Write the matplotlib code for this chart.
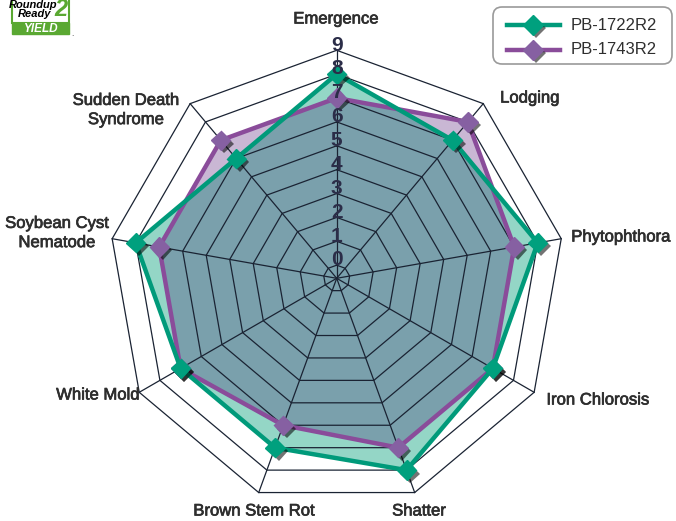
import matplotlib
matplotlib.use('Agg')
import matplotlib.pyplot as plt
import numpy as np
import matplotlib.patheffects as pe
from matplotlib.patches import FancyBboxPatch, Rectangle
from matplotlib.lines import Line2D

# ---------------- data ----------------
categories = ['Emergence', 'Lodging', 'Phytophthora', 'Iron Chlorosis', 'Shatter',
              'Brown Stem Rot', 'White Mold', 'Soybean Cyst\nNematode',
              'Sudden Death\nSyndrome']
pb1722 = [8, 7, 8, 7, 8, 7, 7, 8, 6]
pb1743 = [7, 8, 7, 7, 7, 6, 7, 7, 7]
series_names = ['PB-1722R2', 'PB-1743R2']
scale_ticks = [0, 1, 2, 3, 4, 5, 6, 7, 8, 9]

# ---------------- layout / style ----------------
W, H = 676, 521
cx, cy, R = 336.7, 278.3, 228
RMIN, RMAX = -0.55, 9
label_pos = [(336, 19), (530, 98), (621, 237), (598, 400), (419, 511),
             (254, 511), (98, 395), (57, 233), (126, 110)]
FONT = ['Liberation Sans', 'DejaVu Sans']
NARROW = ['Liberation Sans Narrow', 'Liberation Sans', 'DejaVu Sans']
GREEN, GREEN_M = '#009a7a', '#00a07e'
PURPLE, PURPLE_M = '#8a4c9a', '#8660a2'
FILL_G, FILL_P, FILL_O = '#94d6c6', '#c9b7d4', '#7aa0ac'
GRID = '#1a2333'
TXT = '#2e2e2e'
heavy = [pe.withStroke(linewidth=0.5, foreground=TXT)]

fig = plt.figure(figsize=(W / 100, H / 100), dpi=100)
fig.patch.set_facecolor('white')
ax = fig.add_axes([(cx - R) / W, (H - cy - R) / H, 2 * R / W, 2 * R / H],
                  projection='polar')
ax.set_theta_zero_location('N')
ax.set_theta_direction(-1)
ax.set_ylim(RMIN, RMAX)
ax.axis('off')

n = len(categories)
theta = np.linspace(0, 2 * np.pi, n, endpoint=False)
tc = np.append(theta, theta[0])
gc = np.append(pb1722, pb1722[0])
pcv = np.append(pb1743, pb1743[0])

# fills
ax.fill(tc, gc, color=FILL_G, lw=0, zorder=1)
p_fill = ax.fill(tc, pcv, color=FILL_P, lw=0, zorder=1.1)[0]
ov = ax.fill(tc, gc, color=FILL_O, lw=0, zorder=1.2)[0]
ov.set_clip_path(p_fill)

# polygon grid
for k in scale_ticks:
    ax.plot(tc, np.full(n + 1, k), color=GRID, lw=0.9, zorder=3, clip_on=False)
for t in theta:
    ax.plot([t, t], [RMIN, RMAX], color=GRID, lw=0.9, zorder=3, clip_on=False)

shadow = [pe.SimplePatchShadow(offset=(2.5, -2.5), shadow_rgbFace='#000000', alpha=0.55),
          pe.Normal()]

# series
ax.plot(tc, pcv, color=PURPLE, lw=3.2, zorder=4, clip_on=False, solid_joinstyle='miter')
ax.plot(theta, pb1743, ls='none', marker='D', ms=9.8, mfc=PURPLE_M, mec=PURPLE_M,
        zorder=5, clip_on=False, path_effects=shadow)
ax.plot(tc, gc, color=GREEN, lw=3.2, zorder=6, clip_on=False, solid_joinstyle='miter')
ax.plot(theta, pb1722, ls='none', marker='D', ms=9.8, mfc=GREEN_M, mec=GREEN_M,
        zorder=7, clip_on=False, path_effects=shadow)

# scale numbers
for k in scale_ticks:
    ax.text(0, k + 0.22, str(k), ha='center', va='center', fontsize=15,
            fontweight='bold', color='#2b2d48', family=NARROW, zorder=8, clip_on=False)

# ---------------- overlay (labels, legend, logo) ----------------
ov_ax = fig.add_axes([0, 0, 1, 1], zorder=10)
ov_ax.set_xlim(0, W)
ov_ax.set_ylim(H, 0)
ov_ax.axis('off')

for lab, (x, y) in zip(categories, label_pos):
    ov_ax.text(x, y, lab, ha='center', va='center', fontsize=12, color=TXT,
               family=FONT, linespacing=1.35, path_effects=heavy)

# legend
ov_ax.add_patch(FancyBboxPatch((493, 7), 179, 57,
                               boxstyle='round,pad=0,rounding_size=9',
                               fc='white', ec='#9a9a9a', lw=1.2))
for name, col, mcol, y in [(series_names[0], GREEN, GREEN_M, 25),
                            (series_names[1], PURPLE, PURPLE_M, 50)]:
    ov_ax.add_line(Line2D([507, 560], [y, y], color=col, lw=3.2))
    ov_ax.add_line(Line2D([533], [y], ls='none', marker='D', ms=9.8, mfc=mcol,
                          mec=mcol, path_effects=shadow))
    ov_ax.text(571, y, name, ha='left', va='center', fontsize=12, color=TXT,
               family=FONT)

# logo
LOGO = '#5aa832'
ov_ax.add_patch(Rectangle((12, -4), 57, 27, fc='white', ec=LOGO, lw=1.5))
ov_ax.add_patch(Rectangle((12, 23), 57, 11, fc=LOGO, ec=LOGO, lw=1))
ov_ax.text(40.5, 28.7, 'YIELD', ha='center', va='center', fontsize=8.5, color='white',
           fontweight='bold', style='italic', family=FONT)
ov_ax.text(33, 4.5, 'Roundup', ha='center', va='center', fontsize=8, color='black',
           fontweight='bold', style='italic', family=FONT)
ov_ax.text(35, 14, 'Ready', ha='center', va='center', fontsize=8, color='black',
           fontweight='bold', style='italic', family=FONT)
ov_ax.text(61, 10, '2', ha='center', va='center', fontsize=17, color=LOGO,
           fontweight='bold', style='italic', family=FONT)
ov_ax.text(72, 34, '.', ha='center', va='center', fontsize=6, color='#333333',
           family=FONT)

fig.savefig('out.png', dpi=100)
